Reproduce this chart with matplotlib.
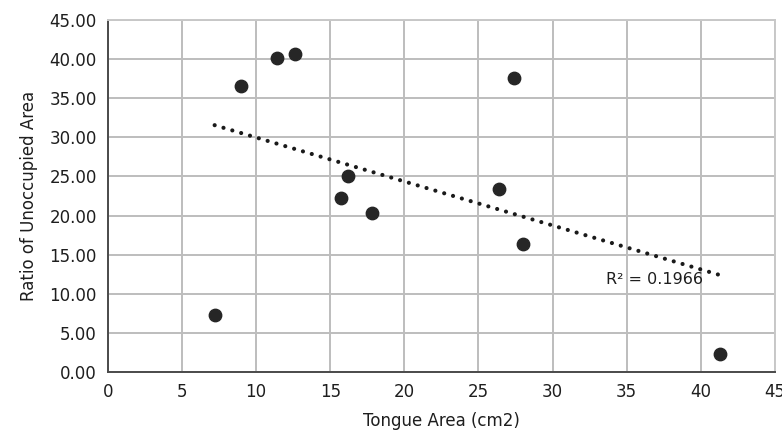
import numpy as np
import matplotlib.pyplot as plt

# tongue area (cm2) vs ratio of unoccupied area
tongue_area = [7.2, 9.0, 11.4, 12.6, 15.7, 16.2, 17.8, 26.4, 27.4, 28.0, 41.3]
unoccupied_ratio = [7.3, 36.5, 40.2, 40.7, 22.2, 25.0, 20.3, 23.4, 37.6, 16.4, 2.3]
r2_label = "R² = 0.1966"

x = np.array(tongue_area)
y = np.array(unoccupied_ratio)
slope, intercept = np.polyfit(x, y, 1)
xs = np.array([x.min(), x.max()])

fig = plt.figure(figsize=(7.82, 4.43), dpi=100)
ax = fig.add_axes([0.138, 0.160, 0.853, 0.795])

ax.set_xlim(0, 45)
ax.set_ylim(0, 45)
ax.set_xticks(np.arange(0, 46, 5))
ax.set_yticks(np.arange(0, 46, 5))
ax.set_yticklabels([f"{v:.2f}" for v in np.arange(0, 46, 5)])
ax.grid(True, color="#bdbdbd", linewidth=1.4)
ax.set_axisbelow(True)

for side in ["top", "right"]:
    ax.spines[side].set_color("#c8c8c8")
    ax.spines[side].set_linewidth(1.4)
for side in ["left", "bottom"]:
    ax.spines[side].set_color("#4a4a4a")
    ax.spines[side].set_linewidth(1.4)

ax.tick_params(length=0, pad=8, labelsize=12, colors="#1e1e1e")

ax.scatter(x, y, s=80, color="#262626", zorder=3)
ax.plot(xs, slope * xs + intercept, color="#1a1a1a", linewidth=3.0,
        linestyle=(0, (0.01, 2.2)), dash_capstyle="round", zorder=2)
ax.text(33.6, 11.8, r2_label, fontsize=11.5, va="center", color="#1e1e1e")

ax.set_xlabel("Tongue Area (cm2)", fontsize=12, color="#1e1e1e", labelpad=8)
ax.set_ylabel("Ratio of Unoccupied Area", fontsize=12, color="#1e1e1e", labelpad=8)

fig.savefig("out.png", dpi=100)
